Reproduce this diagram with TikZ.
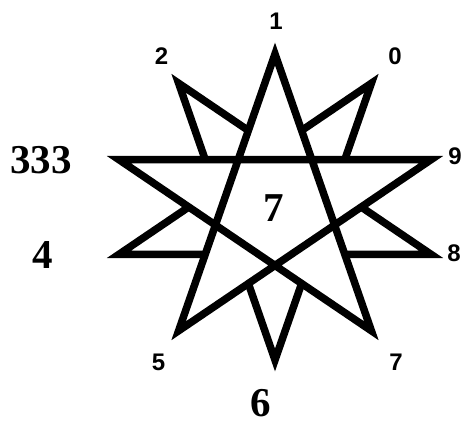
\documentclass[tikz,border=0pt]{standalone}
\usepackage{fontspec}
\setmainfont{Liberation Serif}
\newfontfamily\lsans{Liberation Sans}
\begin{document}
\begin{tikzpicture}[x=1pt,y=-1pt,
  starline/.style={line width=7.5pt,line join=miter,miter limit=10,black},
  smalllab/.style={inner sep=0pt,font=\lsans\bfseries\fontsize{24}{24}\selectfont},
  biglab/.style={inner sep=0pt,font=\bfseries\fontsize{41}{41}\selectfont}]
\useasboundingbox (0,0) rectangle (472,426);
\def\cx{275}\def\cy{207}\def\rx{164}\def\ry{153}
\foreach \n/\a in {v1/90,v0/54,v9/18,v8/-18,v7/-54,v6/-90,v5/-126,v4/-162,v333/162,v2/126}
  \coordinate (\n) at ({\cx+\rx*cos(\a)},{\cy-\ry*sin(\a)});
% second pentagram (spikes)
\draw[starline] (v0) -- (v6) -- (v2) -- (v8) -- (v4) -- cycle;
% hide its inner parts
\fill[white] (v1) -- (v7) -- (v333) -- (v9) -- (v5) -- cycle;
% main pentagram
\draw[starline] (v1) -- (v7) -- (v333) -- (v9) -- (v5) -- cycle;
% labels
\node[smalllab] (l1) at (276,21) {1};
\node[smalllab] (l2) at (161.5,56) {2};
\node[smalllab] (l0) at (395,56) {0};
\node[smalllab] (l9) at (455,156) {9};
\node[smalllab] (l8) at (454,253) {8};
\node[smalllab] (l7) at (396,362) {7};
\node[smalllab] (l5) at (158.5,362) {5};
\node[biglab] (l6) at (261,403) {6};
\node[biglab] (l4) at (43,255) {4};
\node[biglab] (l333) at (41,160) {333};
\node[biglab] (lc) at (274,208) {7};
\end{tikzpicture}
\end{document}
